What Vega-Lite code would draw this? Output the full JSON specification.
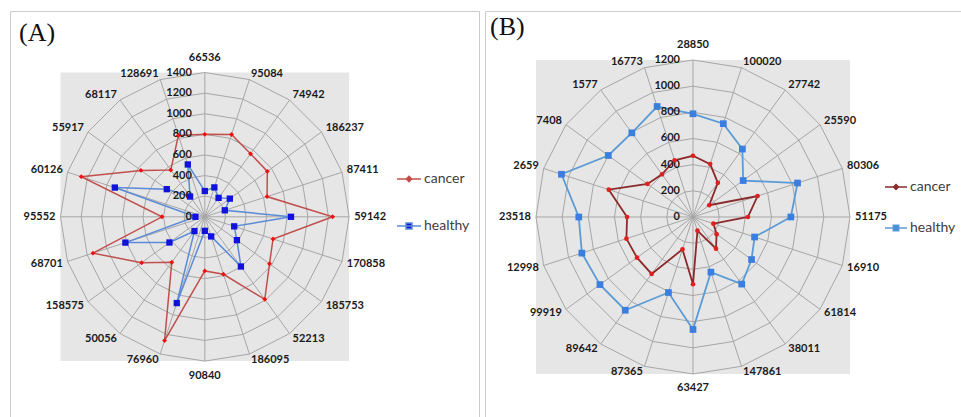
{
  "$schema": "https://vega.github.io/schema/vega-lite/v6.json",
  "background": "white",
  "padding": {"left": 9, "top": 10, "right": 0, "bottom": 0},
  "autosize": {"type": "pad"},
  "spacing": 4,
  "config": {"view": {"stroke": "#cccccc", "strokeWidth": 1}},
  "datasets": {
    "A": [
      {"idx": 0, "cat": "66536", "cancer": 800, "healthy": 250},
      {"idx": 1, "cat": "95084", "cancer": 840, "healthy": 300},
      {"idx": 2, "cat": "74942", "cancer": 755, "healthy": 227},
      {"idx": 3, "cat": "186237", "cancer": 750, "healthy": 300},
      {"idx": 4, "cat": "87411", "cancer": 635, "healthy": 204},
      {"idx": 5, "cat": "59142", "cancer": 1240, "healthy": 836},
      {"idx": 6, "cat": "170858", "cancer": 696, "healthy": 300},
      {"idx": 7, "cat": "185753", "cancer": 776, "healthy": 385},
      {"idx": 8, "cat": "52213", "cancer": 990, "healthy": 596},
      {"idx": 9, "cat": "186095", "cancer": 586, "healthy": 200},
      {"idx": 10, "cat": "90840", "cancer": 525, "healthy": 136},
      {"idx": 11, "cat": "76960", "cancer": 1263, "healthy": 880},
      {"idx": 12, "cat": "50056", "cancer": 545, "healthy": 171},
      {"idx": 13, "cat": "158575", "cancer": 758, "healthy": 424},
      {"idx": 14, "cat": "68701", "cancer": 1141, "healthy": 810},
      {"idx": 15, "cat": "95552", "cancer": 415, "healthy": 91},
      {"idx": 16, "cat": "60126", "cancer": 1260, "healthy": 918},
      {"idx": 17, "cat": "55917", "cancer": 766, "healthy": 456},
      {"idx": 18, "cat": "68117", "cancer": 561, "healthy": 243},
      {"idx": 19, "cat": "128691", "cancer": 830, "healthy": 534}
    ],
    "B": [
      {"idx": 0, "cat": "28850", "cancer": 468, "healthy": 789},
      {"idx": 1, "cat": "100020", "cancer": 425, "healthy": 750},
      {"idx": 2, "cat": "27742", "cancer": 323, "healthy": 642},
      {"idx": 3, "cat": "25590", "cancer": 153, "healthy": 474},
      {"idx": 4, "cat": "80306", "cancer": 519, "healthy": 840},
      {"idx": 5, "cat": "51175", "cancer": 420, "healthy": 748},
      {"idx": 6, "cat": "16910", "cancer": 164, "healthy": 495},
      {"idx": 7, "cat": "61814", "cancer": 223, "healthy": 553},
      {"idx": 8, "cat": "38011", "cancer": 299, "healthy": 634},
      {"idx": 9, "cat": "147861", "cancer": 110, "healthy": 443},
      {"idx": 10, "cat": "63427", "cancer": 514, "healthy": 860},
      {"idx": 11, "cat": "87365", "cancer": 260, "healthy": 607},
      {"idx": 12, "cat": "89642", "cancer": 538, "healthy": 881},
      {"idx": 13, "cat": "99919", "cancer": 529, "healthy": 879},
      {"idx": 14, "cat": "12998", "cancer": 535, "healthy": 893},
      {"idx": 15, "cat": "23518", "cancer": 504, "healthy": 873},
      {"idx": 16, "cat": "2659", "cancer": 677, "healthy": 1057},
      {"idx": 17, "cat": "7408", "cancer": 430, "healthy": 800},
      {"idx": 18, "cat": "1577", "cancer": 403, "healthy": 795},
      {"idx": 19, "cat": "16773", "cancer": 456, "healthy": 888}
    ]
  },
  "hconcat": [
    {
      "width": 469,
      "height": 410,
      "data": {"name": "A"},
      "encoding": {
        "x": {"field": "px", "type": "quantitative", "scale": {"domain": [-1.35, 1.9002], "nice": false, "zero": false}, "axis": null},
        "y": {"field": "py", "type": "quantitative", "scale": {"domain": [-1.4151, 1.4262], "nice": false, "zero": false}, "axis": null}
      },
      "layer": [
        {
          "transform": [{"filter": "datum.idx == 0"}, {"calculate": "0", "as": "px"}, {"calculate": "0", "as": "py"}],
          "mark": {"type": "point", "shape": "square", "filled": true, "fill": "#e6e6e6", "opacity": 1, "strokeWidth": 0, "size": 83290}
        },
        {
          "transform": [
            {"calculate": "sin(datum.idx*PI/10)", "as": "px"},
            {"calculate": "cos(datum.idx*PI/10)", "as": "py"}
          ],
          "mark": {"type": "rule", "stroke": "#a6a6a6", "strokeWidth": 1},
          "encoding": {"x": {"datum": 0, "type": "quantitative"}, "y": {"datum": 0, "type": "quantitative"}, "x2": {"field": "px"}, "y2": {"field": "py"}}
        },
        {
          "transform": [
            {"calculate": "[200,400,600,800,1000,1200,1400]", "as": "lv"},
            {"flatten": ["lv"]},
            {"calculate": "datum.lv/1400*sin(datum.idx*PI/10)", "as": "px"},
            {"calculate": "datum.lv/1400*cos(datum.idx*PI/10)", "as": "py"}
          ],
          "mark": {"type": "line", "interpolate": "linear-closed", "stroke": "#a6a6a6", "strokeWidth": 1},
          "encoding": {"detail": {"field": "lv", "type": "nominal"}, "order": {"field": "idx", "type": "quantitative"}}
        },
        {
          "transform": [
            {"fold": ["cancer", "healthy"], "as": ["series", "value"]},
            {"calculate": "datum.value/1400*sin(datum.idx*PI/10)", "as": "px"},
            {"calculate": "datum.value/1400*cos(datum.idx*PI/10)", "as": "py"}
          ],
          "mark": {"type": "line", "interpolate": "linear-closed", "strokeWidth": 1.5},
          "encoding": {
            "order": {"field": "idx", "type": "quantitative"},
            "color": {
              "field": "series", "type": "nominal",
              "scale": {"domain": ["cancer", "healthy"], "range": ["#c0504d", "#5b8ad6"]},
              "legend": {
                "title": null, "orient": "none", "legendX": 386, "legendY": 155, "padding": 0,
                "symbolType": "M-1,0H1M-0.25,-0.25H0.25V0.25H-0.25Z", "symbolSize": 576, "symbolStrokeWidth": 1.5,
                "labelOffset": 2, "labelFont": "Lato", "labelFontSize": 14, "labelColor": "#404040", "rowPadding": 27,
                "encode": {"symbols": {"update": {
                  "shape": {"signal": "datum.value === 'cancer' ? 'M-1,0H1M0,-0.22L0.22,0L0,0.22L-0.22,0Z' : 'M-1,0H1M-0.25,-0.25H0.25V0.25H-0.25Z'"},
                  "fill": {"signal": "datum.value === 'cancer' ? '#ee1111' : '#1111dd'"},
                  "fillOpacity": {"value": 1}
                }}}
              }
            }
          }
        },
        {
          "transform": [
            {"filter": "datum.idx == 0"},
            {"calculate": "[0,200,400,600,800,1000,1200,1400]", "as": "lv"},
            {"flatten": ["lv"]},
            {"calculate": "0", "as": "px"},
            {"calculate": "datum.lv/1400", "as": "py"}
          ],
          "mark": {"type": "text", "align": "right", "baseline": "middle", "dx": -13, "font": "Lato", "fontWeight": "bold", "fontSize": 11, "color": "#1a1a1a"},
          "encoding": {"text": {"field": "lv", "type": "nominal"}}
        },
        {
          "transform": [
            {"calculate": "datum.idx*PI/10", "as": "t"},
            {"calculate": "(149.3*sin(datum.t) + (sin(datum.t) > 0.01 ? 1 : (sin(datum.t) < -0.01 ? -1 : 0)) * 3.2 * length(datum.cat)) / 144.3", "as": "px"},
            {"calculate": "(149.3*cos(datum.t) + (cos(datum.t) > 0.01 ? 1 : (cos(datum.t) < -0.01 ? -1 : 0)) * (abs(sin(datum.t)) < 0.01 ? 9.5 : 1)) / 144.3", "as": "py"}
          ],
          "mark": {"type": "text", "align": "center", "baseline": "middle", "font": "Lato", "fontWeight": "bold", "fontSize": 11, "color": "#1a1a1a"},
          "encoding": {"text": {"field": "cat", "type": "nominal"}}
        },
        {
          "transform": [
            {"filter": "datum.idx == 0"},
            {"calculate": "'(A)'", "as": "ttl"},
            {"calculate": "-1.2876", "as": "px"},
            {"calculate": "1.2183", "as": "py"}
          ],
          "mark": {"type": "text", "align": "left", "baseline": "alphabetic", "font": "Liberation Serif", "fontSize": 26, "color": "#111111"},
          "encoding": {"text": {"field": "ttl", "type": "nominal"}}
        },
        {
          "transform": [
            {"fold": ["cancer", "healthy"], "as": ["series", "value"]},
            {"filter": "datum.series === 'cancer'"},
            {"calculate": "datum.value/1400*sin(datum.idx*PI/10)", "as": "px"},
            {"calculate": "datum.value/1400*cos(datum.idx*PI/10)", "as": "py"}
          ],
          "mark": {"type": "point", "shape": "diamond", "filled": true, "size": 24, "color": "#ee1111", "opacity": 1}
        },
        {
          "transform": [
            {"fold": ["cancer", "healthy"], "as": ["series", "value"]},
            {"filter": "datum.series === 'healthy'"},
            {"calculate": "datum.value/1400*sin(datum.idx*PI/10)", "as": "px"},
            {"calculate": "datum.value/1400*cos(datum.idx*PI/10)", "as": "py"}
          ],
          "mark": {"type": "point", "shape": "square", "filled": true, "size": 40, "color": "#1111dd", "opacity": 1}
        }
      ]
    },
    {
      "width": 479,
      "height": 410,
      "data": {"name": "B"},
      "encoding": {
        "x": {"field": "px", "type": "quantitative", "scale": {"domain": [-1.3248, 1.7261], "nice": false, "zero": false}, "axis": null},
        "y": {"field": "py", "type": "quantitative", "scale": {"domain": [-1.2994, 1.3121], "nice": false, "zero": false}, "axis": null}
      },
      "layer": [
        {
          "transform": [{"filter": "datum.idx == 0"}, {"calculate": "-1", "as": "px"}, {"calculate": "1", "as": "px2"}, {"calculate": "-1", "as": "py"}, {"calculate": "1", "as": "py2"}],
          "mark": {"type": "rect", "fill": "#e6e6e6", "opacity": 1},
          "encoding": {"x2": {"field": "px2"}, "y2": {"field": "py2"}}
        },
        {
          "transform": [
            {"calculate": "sin(datum.idx*PI/10)", "as": "px"},
            {"calculate": "cos(datum.idx*PI/10)", "as": "py"}
          ],
          "mark": {"type": "rule", "stroke": "#a6a6a6", "strokeWidth": 1},
          "encoding": {"x": {"datum": 0, "type": "quantitative"}, "y": {"datum": 0, "type": "quantitative"}, "x2": {"field": "px"}, "y2": {"field": "py"}}
        },
        {
          "transform": [
            {"calculate": "[200,400,600,800,1000,1200]", "as": "lv"},
            {"flatten": ["lv"]},
            {"calculate": "datum.lv/1200*sin(datum.idx*PI/10)", "as": "px"},
            {"calculate": "datum.lv/1200*cos(datum.idx*PI/10)", "as": "py"}
          ],
          "mark": {"type": "line", "interpolate": "linear-closed", "stroke": "#a6a6a6", "strokeWidth": 1},
          "encoding": {"detail": {"field": "lv", "type": "nominal"}, "order": {"field": "idx", "type": "quantitative"}}
        },
        {
          "transform": [
            {"fold": ["cancer", "healthy"], "as": ["series", "value"]},
            {"calculate": "datum.value/1200*sin(datum.idx*PI/10)", "as": "px"},
            {"calculate": "datum.value/1200*cos(datum.idx*PI/10)", "as": "py"}
          ],
          "mark": {"type": "line", "interpolate": "linear-closed", "strokeWidth": 1.8},
          "encoding": {
            "order": {"field": "idx", "type": "quantitative"},
            "color": {
              "field": "series", "type": "nominal",
              "scale": {"domain": ["cancer", "healthy"], "range": ["#8b2a2a", "#5b9bd5"]},
              "legend": {
                "title": null, "orient": "none", "legendX": 399, "legendY": 164, "padding": 0,
                "symbolType": "M-1,0H1M-0.25,-0.25H0.25V0.25H-0.25Z", "symbolSize": 484, "symbolStrokeWidth": 1.5,
                "labelOffset": 2, "labelFont": "Lato", "labelFontSize": 14, "labelColor": "#404040", "rowPadding": 22,
                "encode": {"symbols": {"update": {
                  "shape": {"signal": "datum.value === 'cancer' ? 'M-1,0H1M0,-0.22L0.22,0L0,0.22L-0.22,0Z' : 'M-1,0H1M-0.25,-0.25H0.25V0.25H-0.25Z'"},
                  "fill": {"signal": "datum.value === 'cancer' ? '#e02020' : '#3a7ee0'"},
                  "fillOpacity": {"value": 1}
                }}}
              }
            }
          }
        },
        {
          "transform": [
            {"filter": "datum.idx == 0"},
            {"calculate": "[0,200,400,600,800,1000,1200]", "as": "lv"},
            {"flatten": ["lv"]},
            {"calculate": "0", "as": "px"},
            {"calculate": "datum.lv/1200", "as": "py"}
          ],
          "mark": {"type": "text", "align": "right", "baseline": "middle", "dx": -13, "font": "Lato", "fontWeight": "bold", "fontSize": 11, "color": "#1a1a1a"},
          "encoding": {"text": {"field": "lv", "type": "nominal"}}
        },
        {
          "transform": [
            {"calculate": "datum.idx*PI/10", "as": "t"},
            {"calculate": "(162*sin(datum.t) + (sin(datum.t) > 0.01 ? 1 : (sin(datum.t) < -0.01 ? -1 : 0)) * 3.2 * length(datum.cat)) / 157", "as": "px"},
            {"calculate": "(162*cos(datum.t) + (cos(datum.t) > 0.01 ? 1 : (cos(datum.t) < -0.01 ? -1 : 0)) * (abs(sin(datum.t)) < 0.01 ? 9.5 : 1)) / 157", "as": "py"}
          ],
          "mark": {"type": "text", "align": "center", "baseline": "middle", "font": "Lato", "fontWeight": "bold", "fontSize": 11, "color": "#1a1a1a"},
          "encoding": {"text": {"field": "cat", "type": "nominal"}}
        },
        {
          "transform": [
            {"filter": "datum.idx == 0"},
            {"calculate": "'(B)'", "as": "ttl"},
            {"calculate": "-1.293", "as": "px"},
            {"calculate": "1.159", "as": "py"}
          ],
          "mark": {"type": "text", "align": "left", "baseline": "alphabetic", "font": "Liberation Serif", "fontSize": 26, "color": "#111111"},
          "encoding": {"text": {"field": "ttl", "type": "nominal"}}
        },
        {
          "transform": [
            {"fold": ["cancer", "healthy"], "as": ["series", "value"]},
            {"filter": "datum.series === 'cancer'"},
            {"calculate": "datum.value/1200*sin(datum.idx*PI/10)", "as": "px"},
            {"calculate": "datum.value/1200*cos(datum.idx*PI/10)", "as": "py"}
          ],
          "mark": {"type": "point", "shape": "circle", "filled": true, "size": 22, "color": "#e02020", "opacity": 1}
        },
        {
          "transform": [
            {"fold": ["cancer", "healthy"], "as": ["series", "value"]},
            {"filter": "datum.series === 'healthy'"},
            {"calculate": "datum.value/1200*sin(datum.idx*PI/10)", "as": "px"},
            {"calculate": "datum.value/1200*cos(datum.idx*PI/10)", "as": "py"}
          ],
          "mark": {"type": "point", "shape": "square", "filled": true, "size": 45, "color": "#3a7ee0", "opacity": 1}
        }
      ]
    }
  ],
  "resolve": {"scale": {"x": "independent", "y": "independent", "color": "independent"}, "legend": {"color": "independent"}}
}
